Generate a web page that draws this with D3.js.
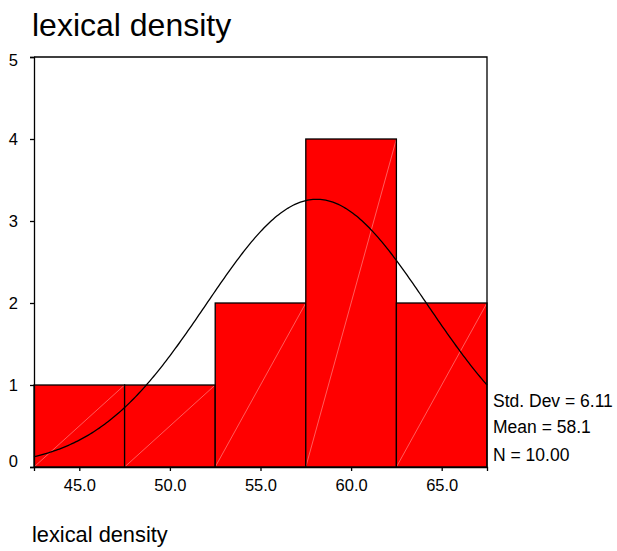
<!DOCTYPE html>
<html><head><meta charset="utf-8">
<script src="https://cdn.jsdelivr.net/npm/d3@7"></script>
<style>body{margin:0;background:#fff}svg{display:block;font-family:Arial,"Liberation Sans",sans-serif}</style>
</head><body>
<script>
const title = "lexical density";
const xLabel = "lexical density";
const binCenters = [45, 50, 55, 60, 65];
const counts = [1, 1, 2, 4, 2];
const binWidth = 5;
const xTicks = [45, 50, 55, 60, 65];
const yTicks = [0, 1, 2, 3, 4, 5];
const stats = ["Std. Dev = 6.11", "Mean = 58.1", "N = 10.00"];
const mean = 58.1, sd = 6.11, n = 10;

const W = 617, H = 551;
const svg = d3.select("body").append("svg").attr("width", W).attr("height", H);
const x = d3.scaleLinear().domain([42.5, 67.5]).range([34, 487]);
const y = d3.scaleLinear().domain([0, 5]).range([467, 57]);

svg.append("text").attr("x", 32).attr("y", 36).attr("font-size", 32).text(title);

// bars
const g = svg.append("g");
binCenters.forEach((c, i) => {
  const x0 = x(c - binWidth/2), x1 = x(c + binWidth/2);
  g.append("rect").attr("x", x0).attr("y", y(counts[i])).attr("width", x1 - x0)
    .attr("height", y(0) - y(counts[i])).attr("fill", "#ff0000");
  g.append("line").attr("x1", x0).attr("y1", y(0)).attr("x2", x1).attr("y2", y(counts[i]))
    .attr("stroke", "#ff9a9a").attr("stroke-width", 0.6);
  g.append("rect").attr("x", x0).attr("y", y(counts[i])).attr("width", x1 - x0)
    .attr("height", y(0) - y(counts[i])).attr("fill", "none").attr("stroke", "#000").attr("stroke-width", 1.3);
});

// normal curve
const pts = d3.range(42.5, 67.5001, 0.1).map(v => [v, n * binWidth * Math.exp(-0.5 * ((v - mean)/sd)**2) / (sd * Math.sqrt(2*Math.PI))]);
svg.append("path").datum(pts).attr("d", d3.line().x(d => x(d[0])).y(d => y(d[1])))
  .attr("fill", "none").attr("stroke", "#000").attr("stroke-width", 1.3);

// frame
svg.append("path").attr("d", `M${x.range()[0]},${y(5)}H${x.range()[1]}V${y(0)}`)
  .attr("fill", "none").attr("stroke", "#000").attr("stroke-width", 1.3);

// axes
const ya = svg.append("g").attr("transform", `translate(${x.range()[0]},0)`)
  .call(d3.axisLeft(y).tickValues(yTicks).tickFormat(d3.format("d")).tickSize(4).tickPadding(12));
const xa = svg.append("g").attr("transform", `translate(0,${y(0)})`)
  .call(d3.axisBottom(x).tickValues(xTicks).tickFormat(d3.format(".1f")).tickSize(4).tickPadding(8));
[ya, xa].forEach(a => {
  a.selectAll("path.domain").attr("stroke", "#000").attr("stroke-width", 1.3);
  a.selectAll("line").attr("stroke", "#000").attr("stroke-width", 1.3);
  a.selectAll("text").attr("font-size", 16.5).attr("fill", "#000").attr("font-family", "Arial, 'Liberation Sans', sans-serif");
});
ya.selectAll(".tick text").attr("transform", d => d === 5 ? "translate(0,3)" : d === 0 ? "translate(0,-6)" : null);

// stats
const sy = [407, 433, 461];
stats.forEach((s, i) => svg.append("text").attr("x", 493).attr("y", sy[i]).attr("font-size", 17.5).text(s));

svg.append("text").attr("x", 32).attr("y", 542).attr("font-size", 21.8).text(xLabel);
</script>
</body></html>
